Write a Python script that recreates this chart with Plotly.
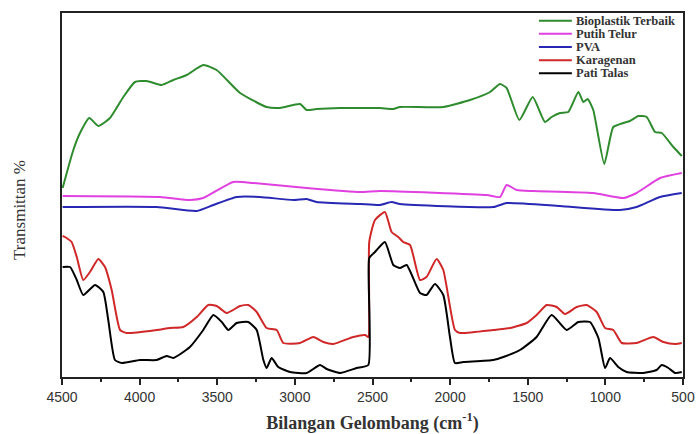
import plotly.graph_objects as go

# Wavenumber (cm^-1) and transmittance (arbitrary units)
bio_x = [4496, 4427, 4384, 4324, 4266, 4191, 4105, 4030, 3955, 3858, 3783, 3697, 3590, 3504, 3353, 3182, 3096,
         2967, 2924, 2860, 2709, 2580, 2452, 2366, 2323, 2044, 1872, 1743, 1679, 1636, 1554, 1468, 1389, 1346,
         1292, 1239, 1174, 1142, 1114, 1078, 1007, 949, 885, 842, 788, 734, 680, 637, 562, 508]
bio_y = [189, 227, 244, 259, 251, 259, 280, 295, 296, 292, 297, 302, 312, 307, 284, 270, 269,
         273, 267, 268, 269, 269, 269, 268, 270, 270, 277, 285, 293, 289, 257, 280, 255, 260,
         264, 265, 285, 275, 278, 267, 213, 250, 254, 256, 261, 260, 245, 244, 230, 221]

putih_x = [4496, 3869, 3676, 3590, 3397, 3268, 2924, 2580, 2452, 1764, 1679, 1636, 1571, 1464, 1078, 885, 799,
           648, 508]
putih_y = [181, 180, 177, 179, 195, 194, 189, 185, 186, 182, 180, 192, 187, 186, 184, 179, 184,
           199, 204]

pva_x = [4496, 3890, 3632, 3525, 3375, 3225, 3010, 2924, 2860, 2580, 2452, 2377, 2323, 1722, 1636, 1292, 906,
         799, 648, 508]
pva_y = [170, 170, 166, 172, 180, 180, 177, 178, 175, 173, 172, 175, 173, 170, 174, 171, 167,
         170, 180, 184]

kar_x = [4496, 4481, 4438, 4405, 4363, 4320, 4266, 4223, 4180, 4126, 4083, 3890, 3804, 3719, 3632, 3558, 3504,
         3439, 3353, 3300, 3246, 3182, 3117, 3074, 2967, 2881, 2817, 2752, 2624, 2548, 2527, 2521, 2484,
         2420, 2377, 2334, 2302, 2258, 2194, 2152, 2087, 2044, 1969, 1936, 1722, 1614, 1507, 1443, 1378,
         1314, 1260, 1185, 1121, 1056, 1002, 949, 895, 799, 691, 626, 551, 508]
kar_y = [141, 140, 135, 120, 97, 105, 118, 110, 87, 47, 44, 47, 49, 50, 60, 72, 71,
         64, 71, 72, 65, 49, 47, 34, 34, 40, 35, 33, 40, 42, 40, 135, 157,
         165, 145, 140, 135, 132, 97, 100, 118, 107, 47, 44, 47, 49, 54, 62, 72,
         70, 63, 70, 72, 65, 49, 47, 34, 34, 40, 35, 33, 34]

pati_x = [4496, 4448, 4405, 4363, 4287, 4234, 4202, 4159, 4115, 3998, 3890, 3826, 3783, 3676, 3590, 3525, 3471,
          3428, 3375, 3300, 3246, 3203, 3182, 3150, 3107, 3031, 2924, 2838, 2795, 2709, 2602, 2527, 2521,
          2484, 2420, 2366, 2323, 2280, 2194, 2152, 2098, 2044, 2001, 1969, 1915, 1722, 1657, 1550, 1443,
          1346, 1250, 1174, 1099, 1045, 1002, 970, 917, 863, 756, 670, 637, 594, 551, 508]
pati_y = [110, 110, 97, 82, 92, 85, 57, 17, 14, 17, 17, 21, 19, 30, 47, 62, 55,
          47, 54, 55, 47, 17, 9, 19, 10, 5, 4, 12, 8, 4, 9, 12, 119,
          125, 135, 112, 109, 112, 84, 82, 93, 82, 40, 14, 15, 17, 20, 27, 40,
          62, 47, 55, 55, 39, 9, 19, 10, 5, 4, 7, 12, 9, 4, 5]

series_names = ["Bioplastik Terbaik", "Putih Telur", "PVA", "Karagenan", "Pati Talas"]
series_x = [bio_x, putih_x, pva_x, kar_x, pati_x]
series_y = [bio_y, putih_y, pva_y, kar_y, pati_y]
series_colors = ["#2e8b2e", "#e040e0", "#2828b4", "#d02828", "#000000"]

tick_vals = [4500, 4000, 3500, 3000, 2500, 2000, 1500, 1000, 500]
tick_text = ["4500", "4000", "3500", "3000", "2500", "2000", "1500", "1000", "500"]

fig = go.Figure()
for name, xs, ys, col in zip(series_names, series_x, series_y, series_colors):
    fig.add_trace(go.Scatter(x=xs, y=ys, mode="lines", name=name, showlegend=False,
                             line=dict(color=col, width=2, shape="spline", smoothing=0.5)))

# Legend drawn as a compact block in the top-right corner of the plot frame
leg_top = 0.979
leg_step = 0.0362
for i, (name, col) in enumerate(zip(series_names, series_colors)):
    yy = leg_top - i * leg_step
    fig.add_shape(type="line", xref="paper", yref="paper", x0=0.768, x1=0.821, y0=yy, y1=yy,
                  line=dict(color=col, width=2))
    fig.add_annotation(xref="paper", yref="paper", x=0.824, y=yy, xanchor="left", yanchor="middle",
                       text="<b>" + name + "</b>", showarrow=False,
                       font=dict(family="Liberation Serif", size=12.5, color="#333"))

# Y axis title (placed like the original, slightly below the centre)
fig.add_annotation(xref="paper", yref="paper", x=-0.0676, y=0.459, xanchor="center", yanchor="middle",
                   text="Transmittan %", textangle=-90, showarrow=False,
                   font=dict(family="Liberation Serif", size=17, color="#333"))

fig.update_layout(
    width=697, height=434,
    margin=dict(l=62, r=14, t=13, b=57),
    paper_bgcolor="white", plot_bgcolor="white",
    showlegend=False,
    xaxis=dict(range=[4500, 500], tickvals=tick_vals, ticktext=tick_text, automargin=False,
               ticks="outside", ticklen=6, tickwidth=1.5, tickcolor="#222",
               minor=dict(ticks="outside", ticklen=3, tickcolor="#222", dtick=250, tick0=500),
               showgrid=False, zeroline=False, showline=True, linecolor="#222", linewidth=1.5, mirror=True,
               tickfont=dict(family="Liberation Sans", size=14, color="#333"),
               title=dict(text="<b>Bilangan Gelombang (cm<sup>-1</sup>)</b>",
                          font=dict(family="Liberation Serif", size=18, color="#333"), standoff=15)),
    yaxis=dict(range=[0, 364], showticklabels=False, ticks="", showgrid=False, zeroline=False, automargin=False,
               showline=True, linecolor="#222", linewidth=1.5, mirror=True),
)

fig.write_html("out.html", config={"displayModeBar": False},
               post_script="document.body.style.margin='0';")
